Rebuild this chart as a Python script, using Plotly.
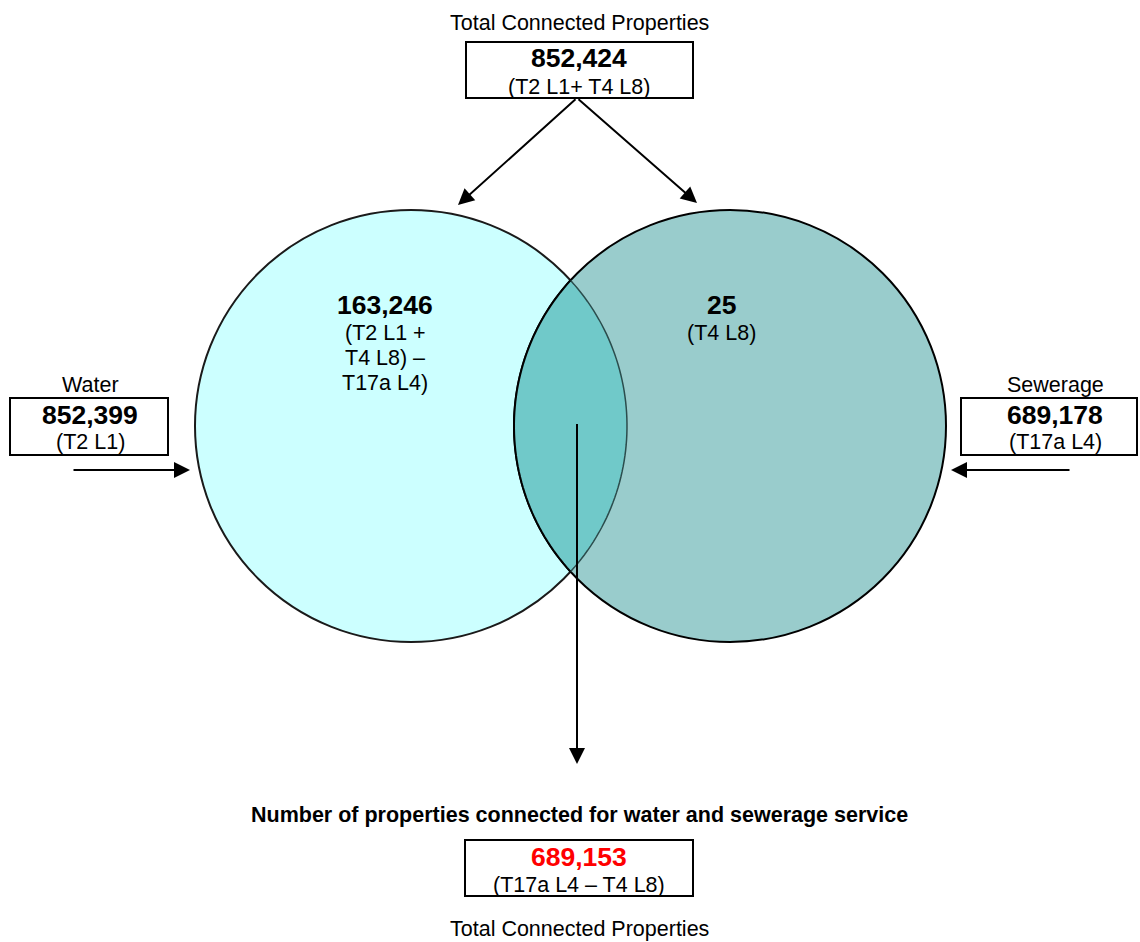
import numpy as np
import plotly.graph_objects as go

# ---- data (text content) ----
top_title = "Total Connected Properties"
top_value = "852,424"
top_formula = "(T2 L1+ T4 L8)"

water_title = "Water"
water_value = "852,399"
water_formula = "(T2 L1)"

sewer_title = "Sewerage"
sewer_value = "689,178"
sewer_formula = "(T17a L4)"

water_only_value = "163,246"
water_only_formula = ["(T2 L1 +", "T4 L8) \u2013", "T17a L4)"]

sewer_only_value = "25"
sewer_only_formula = ["(T4 L8)"]

both_title = "Number of properties connected for water and sewerage service"
both_value = "689,153"
both_formula = "(T17a L4 \u2013 T4 L8)"
footer_text = "Total Connected Properties"

# ---- layout geometry ----
W, H = 1140, 942
FONT = "Liberation Sans, Arial, sans-serif"
REG = 21.5
BIG = 26.5
R = 216
L_C = (411, 426)
R_C = (730, 426)

fig = go.Figure()
fig.add_trace(go.Scatter(x=[0, W], y=[0, H], mode="markers",
                         marker=dict(opacity=0), hoverinfo="skip", showlegend=False))

shapes = []
# left circle
shapes.append(dict(type="circle", xref="x", yref="y",
                   x0=L_C[0] - R, x1=L_C[0] + R, y0=L_C[1] - R, y1=L_C[1] + R,
                   fillcolor="#CCFFFF", line=dict(color="#1a1a1a", width=2)))
# right circle
shapes.append(dict(type="circle", xref="x", yref="y",
                   x0=R_C[0] - R, x1=R_C[0] + R, y0=R_C[1] - R, y1=R_C[1] + R,
                   fillcolor="#99CCCC", line=dict(color="black", width=2)))

# lens (intersection)
d = R_C[0] - L_C[0]
theta = np.arccos((d / 2) / R)
t1 = np.linspace(-theta, theta, 60)
left_arc = [(L_C[0] + R * np.cos(t), L_C[1] + R * np.sin(t)) for t in t1]
t2 = np.linspace(np.pi + theta, np.pi - theta, 60)
right_arc = [(R_C[0] + R * np.cos(t), R_C[1] + R * np.sin(t)) for t in t2]


def path_of(pts, close=False):
    s = "M " + " L ".join(f"{x:.2f},{y:.2f}" for x, y in pts)
    return s + (" Z" if close else "")


shapes.append(dict(type="path", xref="x", yref="y", path=path_of(left_arc + right_arc, True),
                   fillcolor="#70C9C9", line=dict(width=0)))
shapes.append(dict(type="path", xref="x", yref="y", path=path_of(left_arc),
                   line=dict(color="#2b4d4d", width=1.5)))
shapes.append(dict(type="path", xref="x", yref="y", path=path_of(right_arc),
                   line=dict(color="black", width=2)))

# boxes
boxes = [(466, 42, 693, 98), (10, 398, 168, 455), (961, 398, 1137, 455), (465, 840, 693, 896)]
for x0, y0, x1, y1 in boxes:
    shapes.append(dict(type="rect", xref="x", yref="y", x0=x0, y0=y0, x1=x1, y1=y1,
                       fillcolor="white", line=dict(color="black", width=2)))

# vertical line from overlap
shapes.append(dict(type="line", xref="x", yref="y", x0=577, y0=424, x1=577, y1=752,
                   line=dict(color="black", width=2)))

ann = []


def txt(x, y, s, size=REG, bold=False, color="black"):
    ann.append(dict(x=x, y=y, xref="x", yref="y", text=(f"<b>{s}</b>" if bold else s),
                    showarrow=False, xanchor="center", yanchor="middle",
                    font=dict(family=FONT, size=size, color=color)))


def arrow(x0, y0, x1, y1):
    ann.append(dict(x=x1, y=y1, ax=x0, ay=y0, xref="x", yref="y", axref="x", ayref="y",
                    text="", showarrow=True, arrowhead=2, arrowsize=1.6,
                    arrowwidth=2, arrowcolor="black", standoff=0))


txt(579, 23, top_title)
txt(579, 58, top_value, size=BIG, bold=True)
txt(579, 87, top_formula)

txt(90, 385, water_title)
txt(90, 415, water_value, size=BIG, bold=True)
txt(90, 442, water_formula)

txt(1055, 385, sewer_title)
txt(1055, 415, sewer_value, size=BIG, bold=True)
txt(1055, 442, sewer_formula)

txt(385, 305, water_only_value, size=BIG, bold=True)
for i, line in enumerate(water_only_formula):
    txt(385, 333 + 25 * i, line)

txt(721, 305, sewer_only_value, size=BIG, bold=True)
for i, line in enumerate(sewer_only_formula):
    txt(721, 333 + 25 * i, line)

txt(579, 815, both_title, bold=True)
txt(579, 857, both_value, size=BIG, bold=True, color="#FF0000")
txt(579, 885, both_formula)
txt(579, 929, footer_text)

arrow(577, 98, 458, 205)
arrow(577, 98, 697, 203)
arrow(72, 470, 190, 470)
arrow(1071, 470, 951, 470)
arrow(577, 740, 577, 764)

fig.update_layout(
    width=W, height=H, margin=dict(l=0, r=0, t=0, b=0),
    paper_bgcolor="white", plot_bgcolor="white",
    xaxis=dict(range=[0, W], visible=False, fixedrange=True),
    yaxis=dict(range=[H, 0], visible=False, fixedrange=True),
    shapes=shapes, annotations=ann, showlegend=False,
)

fig.write_html("out.html", config={"displayModeBar": False},
               post_script="document.body.style.margin='0';")
